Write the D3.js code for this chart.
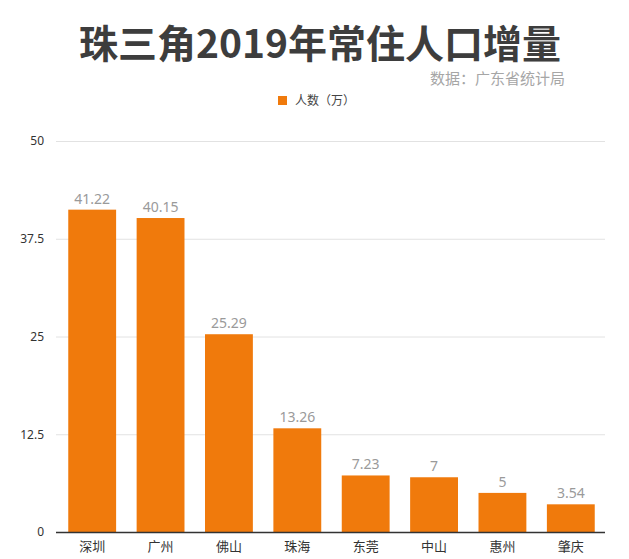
<!DOCTYPE html>
<html>
<head>
<meta charset="utf-8">
<script src="https://cdn.jsdelivr.net/npm/d3@7/dist/d3.min.js"></script>
<style>
  html, body { margin: 0; padding: 0; background: #fff; }
  svg { display: block; font-family: "Noto Sans CJK SC", "Noto Sans", sans-serif; }
</style>
</head>
<body>
<svg id="chart" width="629" height="559"></svg>
<script>
const categories = ["深圳", "广州", "佛山", "珠海", "东莞", "中山", "惠州", "肇庆"];
const values = [41.22, 40.15, 25.29, 13.26, 7.23, 7, 5, 3.54];
const valueLabels = ["41.22", "40.15", "25.29", "13.26", "7.23", "7", "5", "3.54"];
const yTicks = [0, 12.5, 25, 37.5, 50];
const yTickLabels = ["0", "12.5", "25", "37.5", "50"];
const titleText = "珠三角2019年常住人口增量";
const sourceText = "数据：广东省统计局";
const seriesName = "人数（万）";

const svg = d3.select("#chart");
const barColor = "#F07A0C";

const x = d3.scaleBand().domain(categories).range([58, 605]).paddingInner(0.3).paddingOuter(0.15);
const y = d3.scaleLinear().domain([0, 50]).range([532, 141]);

// title
svg.append("text").attr("x", 320).attr("y", 58).attr("text-anchor", "middle")
  .attr("font-size", 39).attr("font-weight", 700).attr("fill", "#3d3d3d").text(titleText);
svg.append("text").attr("x", 565).attr("y", 84).attr("text-anchor", "end")
  .attr("font-size", 15).attr("fill", "#a6a6a6").text(sourceText);

// legend
const lg = svg.append("g");
lg.append("rect").attr("x", 278).attr("y", 96).attr("width", 9).attr("height", 9).attr("fill", barColor);
lg.append("text").attr("x", 295).attr("y", 105).attr("font-size", 12).attr("fill", "#444").text(seriesName);

// grid
const yAxis = d3.axisLeft(y).tickValues(yTicks).tickSize(-(605 - 56)).tickPadding(12)
  .tickFormat((d, i) => yTickLabels[i]);
const gy = svg.append("g").attr("transform", "translate(56,0)").call(yAxis);
gy.select(".domain").remove();
gy.selectAll(".tick line").attr("stroke", "#e2e2e2").attr("stroke-width", 1);
gy.selectAll(".tick text").attr("font-size", 12).attr("fill", "#333")
  .attr("font-family", "'Noto Sans', 'Noto Sans CJK SC', sans-serif");

// bars
svg.append("g").selectAll("rect").data(values).join("rect")
  .attr("x", (d, i) => x(categories[i]))
  .attr("y", d => y(d))
  .attr("width", x.bandwidth())
  .attr("height", d => y(0) - y(d))
  .attr("fill", barColor);

// value labels
svg.append("g").selectAll("text").data(values).join("text")
  .attr("x", (d, i) => x(categories[i]) + x.bandwidth() / 2)
  .attr("y", d => y(d) - 6)
  .attr("text-anchor", "middle").attr("font-size", 14).attr("fill", "#9a9a9a")
  .attr("font-family", "'Noto Sans', 'Noto Sans CJK SC', sans-serif")
  .text((d, i) => valueLabels[i]);

// x axis
const xAxis = d3.axisBottom(x).tickSize(0).tickPadding(10);
const gx = svg.append("g").attr("transform", `translate(0,${y(0)})`).call(xAxis);
gx.select(".domain").attr("d", `M56,0.5H605`).attr("stroke", "#333").attr("stroke-width", 1.5);
gx.selectAll(".tick text").attr("font-size", 13).attr("fill", "#333")
  .attr("font-family", "'Noto Sans CJK SC', sans-serif");
</script>
</body>
</html>
